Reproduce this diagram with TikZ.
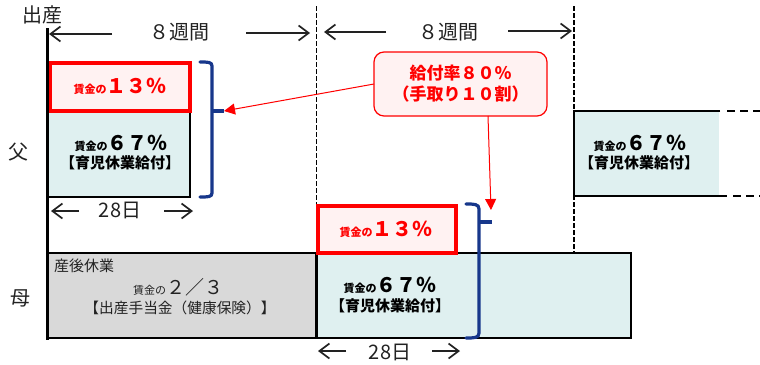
\documentclass[tikz,border=0pt]{standalone}
\usepackage{fontspec}
\setmainfont{Noto Sans CJK JP}
\usetikzlibrary{arrows.meta}
\definecolor{teal1}{HTML}{DFF0F0}
\definecolor{pink1}{HTML}{FFF2F2}
\definecolor{red1}{HTML}{FF0000}
\definecolor{blue1}{HTML}{17378B}
\definecolor{grey1}{HTML}{D9D9D9}
\definecolor{ink}{HTML}{222222}
\newcommand{\px}[1]{\fontsize{#1}{#1}\selectfont}
\tikzset{
  x=1pt,y=-1pt,
  lbl/.style={inner sep=0pt,text=ink,align=center},
  labelbig/.style={lbl,font=\px{20}},
  blacktext/.style={lbl,font=\bfseries,text=black},
  redtext/.style={lbl,text=red1,font=\bfseries},
  span/.style={draw=ink,line width=1.7pt,-{Straight Barb[length=10pt,width=15pt,line width=1.7pt]}},
  redbox/.style={draw=red1,line width=4pt,fill=pink1,inner sep=0pt,outer sep=0pt},
  tealbox/.style={draw=black,line width=1.9pt,fill=teal1},
  guide/.style={draw=black,line width=1.5pt,dash pattern=on 4.5pt off 2.5pt},
  brace/.style={draw=blue1,line width=3.2pt,line cap=round},
  callarrow/.style={draw=red1,line width=1pt,-{Triangle[length=11pt,width=11pt]}},
}
\begin{document}
\begin{tikzpicture}
\useasboundingbox (0,0) rectangle (760,364);
\fill[white] (0,0) rectangle (760,364);
% guides
\draw[guide] (316.5,6) -- (316.5,206);
\draw[guide] (574,6) -- (574,254);
% father
\path[tealbox] (48,111) rectangle (190,197);
\node[redbox,minimum width=140pt,minimum height=48pt,anchor=north west] (redA) at (50,63) {};
\node[redtext] at (120,86) {\px{11}賃金の\px{20}１３％};
\node[blacktext] at (121,143) {\px{11}賃金の\px{20}６７％};
\node[blacktext,font=\bfseries\px{15}] at (120,163) {【育児休業給付】};
% father, later
\fill[teal1] (574,111) rectangle (719,196);
\draw[black,line width=1.9pt] (720,111) -- (574,111) -- (574,196) -- (727,196);
\draw[black,line width=1.5pt,dash pattern=on 8pt off 5pt] (727,111) -- (760,111);
\draw[black,line width=1.5pt,dash pattern=on 8pt off 5pt] (733,196) -- (760,196);
\node[blacktext] at (640,143) {\px{11}賃金の\px{20}６７％};
\node[blacktext,font=\bfseries\px{15}] at (639,163) {【育児休業給付】};
% mother
\path[draw=black,line width=1.9pt,fill=grey1] (48,253) rectangle (316.5,338);
\path[tealbox] (316.5,253) rectangle (631,338);
\draw[black,line width=2.4pt] (316.5,253) -- (316.5,338);
\node[redbox,minimum width=138pt,minimum height=47pt,anchor=north west] (redB) at (318,206) {};
\node[redtext] at (386,229) {\px{11}賃金の\px{20}１３％};
\node[blacktext] at (390,285) {\px{11}賃金の\px{20}６７％};
\node[blacktext,font=\bfseries\px{15}] at (390,306) {【育児休業給付】};
\node[lbl,font=\px{15},anchor=west] at (54,266) {産後休業};
\node[lbl] at (178,287) {\px{11}賃金の\px{19}２／３};
\node[lbl,font=\px{14.7}] at (180,308) {【出産手当金（健康保険）】};
% axis
\draw[black,line width=2.5pt] (47.5,28) -- (47.5,340);
% braces
\coordinate (tipA) at (224,111);
\coordinate (tipB) at (492,222);
\draw[brace] (200,62) .. controls (208,62) and (212,62) .. (212,66) -- (212,193) .. controls (212,197) and (208,197) .. (200,197);
\draw[brace,line cap=butt] (212,111) -- (tipA);
\draw[brace] (466,204) .. controls (474,204) and (479,204) .. (479,209) -- (479,333) .. controls (479,338) and (474,338) .. (466,338);
\draw[brace,line cap=butt] (479,222) -- (tipB);
% callout
\node[draw=red1,line width=1.2pt,fill=pink1,rounded corners=10pt,minimum width=173pt,minimum height=64pt,inner sep=0pt,outer sep=0pt,anchor=north west] (call) at (374,52) {};
\node[redtext,font=\bfseries\px{17},align=center] at (460.5,73) {給付率８０％};
\node[redtext,font=\bfseries\px{17},align=center] at (460.5,94) {（手取り１０割）};
\coordinate (tipC) at (491,210);
\draw[callarrow] (call.west |- 0,84) -- (tipA);
\draw[callarrow] (488,116) -- (tipC);
% span labels
\node[lbl,font=\px{20}] (birth) at (43,15) {出産};
\node[lbl,font=\px{20}] (chichi) at (19,152) {父};
\node[lbl,font=\px{20}] (haha) at (20,298) {母};
\node[labelbig] (w1) at (179,32) {８週間};
\node[labelbig] (w2) at (448,32) {８週間};
\node[labelbig] (d1) at (120,210) {28日};
\node[labelbig] (d2) at (390,352) {28日};
\draw[span] (112,34) -- (49,34);
\draw[span] (246,33) -- (310,33);
\draw[span] (386,32) -- (324,32);
\draw[span] (508,31) -- (572,31);
\draw[span] (79,211) -- (51,211);
\draw[span] (164,211) -- (193,211);
\draw[span] (346,351) -- (318,351);
\draw[span] (432,351) -- (460,351);
\end{tikzpicture}
\end{document}
